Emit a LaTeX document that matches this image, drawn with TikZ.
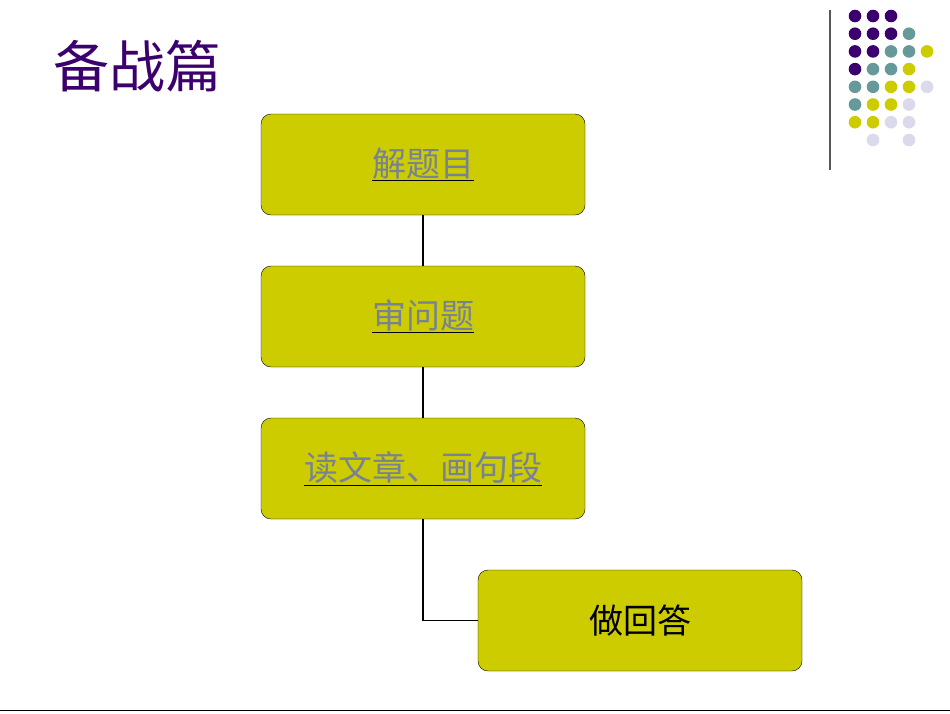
\documentclass[tikz,border=0pt]{standalone}
\usepackage{fontspec}
\newfontfamily\cjk{Noto Sans CJK SC}
\definecolor{olive}{RGB}{204,204,0}
\definecolor{pur}{RGB}{60,0,110}
\definecolor{lnk}{RGB}{120,130,150}
\definecolor{P}{RGB}{60,0,110}
\definecolor{T}{RGB}{102,153,153}
\definecolor{Y}{RGB}{204,204,0}
\definecolor{L}{RGB}{218,218,236}
\begin{document}
\begin{tikzpicture}[x=1pt,y=-1pt,
  box/.style={draw=black,fill=olive,rounded corners=10pt,minimum width=324pt,minimum height=101pt,inner sep=0pt},
  conn/.style={draw=black,line width=1.5pt}]
\useasboundingbox (0,0) rectangle (950,713);
\fill[white] (0,0) rectangle (950,713);
\node[anchor=center,text=pur,font=\cjk\fontsize{56}{60}\selectfont] (title) at (137,66) {备战篇};
\draw[line width=1.2pt,gray!70!black] (830,10) -- (830,170);
\draw[line width=1pt,black] (0,710) -- (950,710);
\foreach \r/\row in {0/{P,P,P},1/{P,P,P,T},2/{P,P,T,T,Y},3/{P,T,T,Y},4/{T,T,Y,Y,L},5/{T,Y,Y,L},6/{Y,Y,L,L}}{
  \foreach \c [count=\i from 0] in \row {
    \fill[\c] (855+\i*18,16+\r*17.7) circle (6.3);
  }}
\fill[L] (873,140) circle (6.3);
\fill[L] (909,140) circle (6.3);
\node[box] (b1) at (423,164.5) {\underline{\textcolor{lnk}{\cjk\fontsize{34}{36}\selectfont 解题目}}};
\node[box] (b2) at (423,316.5) {\underline{\textcolor{lnk}{\cjk\fontsize{34}{36}\selectfont 审问题}}};
\node[box] (b3) at (423,468.5) {\underline{\textcolor{lnk}{\cjk\fontsize{34}{36}\selectfont 读文章、画句段}}};
\node[box] (b4) at (640,620.5) {\cjk\fontsize{34}{36}\selectfont 做回答};
\draw[conn] (b1.south) -- (b2.north);
\draw[conn] (b2.south) -- (b3.north);
\draw[conn] (b3.south) |- (b4.west);
\end{tikzpicture}
\end{document}
